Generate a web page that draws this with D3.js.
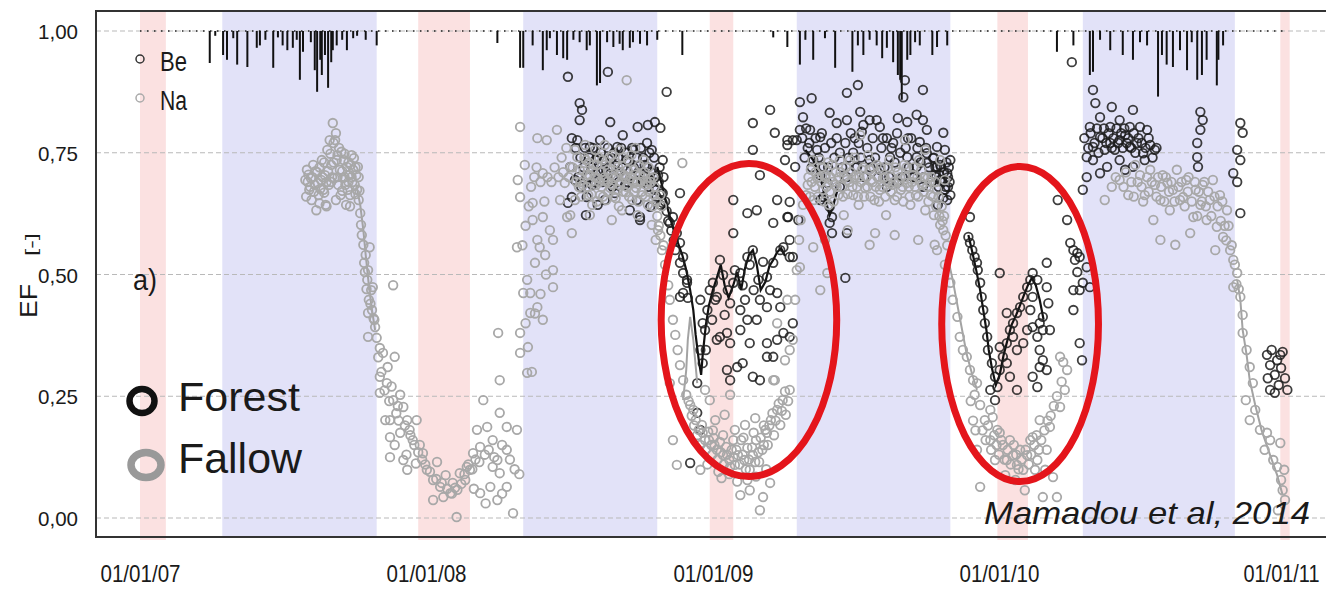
<!DOCTYPE html>
<html>
<head>
<meta charset="utf-8">
<script src="https://cdn.jsdelivr.net/npm/d3@7"></script>
<style>
  body { margin: 0; background: #fff; }
  text { font-family: "Liberation Sans", Arial, sans-serif; fill: #1a1a1a; }
</style>
</head>
<body>
<div id="app"></div>
<script>
// days since 01/01/07, EF value
const na2007 = [[211,.694],[213,.715],[216,.674],[218,.698],[219,.653],[221,.725],[223,.684],[225,.632],[226,.710],[228,.663],[231,.694],[232,.735],[234,.674],[236,.704],[237,.643],[239,.756],[241,.684],[242,.776],[244,.725],[246,.811],[248,.698],[249,.776],[250,.653],[251,.735],[253,.684],[254,.760],[255,.715],[256,.663],[259,.698],[260,.735],[262,.684],[263,.643],[264,.721],[265,.674],[267,.704],[268,.663],[269,.725],[271,.690],[272,.715],[273,.739],[274,.684],[276,.704],[277,.674],[278,.721],[279,.653],
  [212,.660],[214,.690],[215,.705],[217,.680],[220,.700],[222,.670],[224,.712],[227,.688],[229,.720],[230,.676],[233,.700],[235,.730],[238,.690],[240,.712],[243,.748],[245,.700],[247,.770],[247,.730],[250,.790],[252,.745],[252,.700],[257,.752],[258,.712],[261,.700],[261,.748],[266,.690],[266,.730],[270,.700],[270,.745],[275,.720],[275,.665],[279,.700],[280,.672],[235,.668],[244,.690],[258,.672],[268,.640],[238,.640],[229,.646],
  [281,.626],[282,.602],[283,.581],[285,.561],[286,.524],[288,.540],[290,.489],[291,.509],[292,.448],[293,.556],[295,.468],[296,.427],[297,.474],[299,.407],[300,.392],[291,.421],[291,.372],[306,.349],[310,.339],[325,.331],[323,.478],[306,.290],[315,.277],[306,.257],[323,.242],[336,.228],[319,.201],[341,.201],[353,.201],[319,.166],[332,.175],[348,.160],[319,.125],[336,.119],[341,.099],[361,.133],[366,.099],[374,.078],[383,.064],[387,.043],[396,.051],[399,.072],[404,.002],[374,.037],[408,.092],[417,.105],[425,.133],[434,.146],[430,.181],[443,.187],[450,.160],[456,.119],[459,.092],[447,.064],[434,.051],[456,.037],[468,.140],[468,.187],[459,.216],[481,.181],[476,.010],[459,.283],[457,.380],[438,.242],[468,.064],[450,.105],[357,.150],[379,.115],[390,.088],[402,.062],[415,.078],[421,.099],[332,.253],[344,.181],[313,.201],[325,.150],
  [287,.505],[289,.470],[294,.440],[298,.410],[302,.370],[304,.330],[308,.300],[312,.262],[318,.240],[327,.215],[330,.200],[338,.190],[345,.170],[350,.150],[355,.135],[360,.120],[364,.110],[370,.095],[378,.080],[385,.072],[392,.060],[398,.050],[405,.058],[410,.070],[414,.090],[419,.110],[424,.100],[428,.120],[433,.115],[440,.130],[445,.140],[452,.125],[462,.150],[472,.120],[478,.100],[484,.090],[462,.050],[441,.030],[426,.060],[340,.130],[352,.112],[316,.310],[321,.270],[329,.230]];

const na2008 = [[485,.803],[491,.725],[482,.694],[485,.659],[481,.556],[501,.612],[507,.571],[494,.489],[489,.462],[498,.421],[485,.380],[495,.351],[485,.339],[494,.298],[507,.780],[519,.776],[514,.708],[532,.797],[501,.647],[514,.618],[523,.591],[510,.556],[527,.571],[498,.462],[507,.433],[514,.407],[527,.474],[527,.509],[551,.585],[545,.618],[536,.653],[542,.688],[549,.721],[558,.741],[504,.524],[517,.540],
  [488,.560],[492,.600],[496,.640],[499,.680],[503,.700],[506,.720],[511,.690],[516,.650],[520,.700],[525,.690],[529,.720],[534,.700],[538,.740],[540,.710],[544,.760],[547,.700],[552,.720],[557,.690],[560,.680],[504,.420],[511,.460],[518,.500],[492,.400],[500,.300],
  [561,.715],[565,.684],[569,.735],[572,.663],[574,.704],[577,.643],[579,.725],[582,.684],[584,.698],[587,.663],[590,.735],[592,.694],[595,.653],[597,.715],[600,.678],[602,.745],[605,.698],[607,.657],[610,.721],[612,.684],[615,.632],[618,.704],[620,.669],[623,.735],[625,.694],[628,.653],[630,.715],[633,.678],[635,.622],[638,.704],[641,.663],[643,.735],[646,.684],[648,.643],[651,.698],[653,.602],[656,.663],[658,.571],[692,.729],[555,.756],[568,.766],[581,.756],[593,.766],[612,.756],[632,.760],[664,.663],[602,.612],[574,.622],[555,.653],[549,.622],[621,.899],
  [562,.690],[563,.660],[566,.712],[567,.740],[570,.680],[571,.705],[573,.730],[575,.690],[576,.665],[578,.712],[580,.700],[583,.650],[583,.725],[586,.690],[586,.740],[588,.710],[589,.680],[591,.660],[593,.700],[594,.725],[596,.690],[598,.670],[599,.740],[601,.705],[603,.685],[604,.660],[606,.730],[608,.700],[609,.675],[611,.640],[613,.710],[614,.690],[616,.740],[617,.670],[619,.700],[621,.680],[622,.715],[624,.660],[626,.700],[627,.745],[629,.690],[631,.670],[632,.705],[634,.690],[636,.650],[637,.725],[639,.690],[640,.670],[642,.700],[644,.710],[645,.660],[647,.690],[649,.720],[650,.670],[652,.690],[654,.640],[655,.700],[657,.680],[659,.650],[660,.620],[662,.600],[664,.580],[666,.640],[668,.560],
  [661,.591],[666,.550],[670,.520],[674,.478],[676,.448],[680,.407],[683,.376],[686,.345],[689,.314],[693,.283],[697,.253],[702,.232],[676,.277],[685,.109],[680,.160],
  [706,.222],[709,.201],[713,.181],[717,.191],[721,.160],[725,.177],[729,.150],[732,.164],[736,.140],[740,.156],[744,.129],[748,.146],[752,.119],[755,.140],[759,.109],[763,.129],[767,.160],[771,.119],[775,.144],[778,.099],[782,.129],[786,.160],[790,.115],[794,.140],[798,.181],[801,.150],[805,.201],[809,.170],[813,.222],[817,.191],[820,.242],[824,.212],[829,.263],[734,.201],[746,.212],[759,.181],[772,.191],[785,.205],[715,.099],[742,.082],[775,.078],[791,.016],[778,.057],[795,.043],[804,.072],[766,.047],[727,.242],[753,.253],[721,.263],[810,.283],[823,.324],[813,.400],[829,.345],[808,.283],
  [700,.240],[704,.210],[707,.190],[711,.170],[715,.150],[718,.175],[722,.140],[726,.160],[730,.130],[733,.150],[737,.120],[741,.135],[745,.110],[749,.130],[753,.105],[757,.125],[761,.140],[765,.110],[769,.130],[773,.100],[777,.120],[781,.145],[785,.115],[789,.135],[792,.165],[796,.150],[800,.175],[803,.190],[807,.215],[811,.200],[815,.235],[819,.220],[823,.260],[827,.240],[731,.180],[744,.170],[757,.160],[770,.165],[783,.175],[796,.190],[724,.110],[738,.095],[752,.090],[762,.075],[786,.085],[799,.100]];

const na2009 = [[833,.366],[836,.448],[838,.509],[841,.571],[843,.612],[846,.643],[850,.663],[859,.556],[877,.503],[868,.468],[842,.515],[826,.448],
  [852,.684],[856,.715],[860,.653],[864,.698],[868,.735],[872,.674],[875,.704],[879,.643],[883,.725],[887,.684],[891,.663],[894,.710],[898,.622],[902,.694],[906,.735],[910,.663],[914,.704],[917,.643],[921,.715],[925,.678],[929,.745],[933,.694],[937,.653],[940,.725],[944,.674],[948,.698],[952,.622],[956,.735],[960,.684],[963,.653],[967,.710],[971,.674],[975,.725],[979,.688],[983,.643],[986,.704],[990,.663],[994,.735],[998,.684],[1002,.632],[1005,.698],[1009,.663],[1013,.622],[1017,.674],[1021,.602],[874,.571],[903,.591],[931,.561],[963,.581],[993,.571],[1014,.561],[919,.786],[976,.776],[1002,.756],[938,.585],[1021,.735],[1027,.694],
  [853,.700],[855,.660],[857,.690],[858,.735],[861,.680],[862,.710],[865,.660],[866,.700],[869,.690],[870,.720],[873,.650],[874,.700],[876,.680],[878,.730],[880,.670],[881,.700],[884,.690],[885,.650],[888,.710],[889,.680],[892,.700],[893,.735],[896,.680],[897,.660],[899,.700],[901,.720],[903,.665],[905,.690],[907,.710],[909,.680],[911,.700],[912,.740],[915,.680],[916,.660],[918,.700],[920,.690],[923,.720],[924,.660],[927,.700],[928,.680],[931,.715],[932,.660],[935,.690],[936,.720],[939,.680],[941,.700],[943,.650],[945,.720],[947,.680],[950,.700],[951,.660],[954,.690],[955,.720],[958,.670],[959,.700],[962,.690],[964,.720],[966,.660],[968,.690],[970,.700],[973,.680],[974,.650],[977,.700],[978,.720],[981,.680],[982,.660],[985,.690],[987,.720],[989,.680],[992,.700],[993,.660],[996,.690],[997,.715],[1000,.670],[1001,.700],[1004,.680],[1006,.650],[1008,.690],[1010,.700],[1012,.660],[1015,.690],[1016,.640],[1019,.660],[1020,.620],[1023,.640],[1024,.610],[1026,.620],[1028,.580],[1030,.560],
  [1025,.591],[1017,.550],[1027,.520],[1034,.483],[1037,.448],[1043,.413],[1046,.372],[1050,.345],[1055,.331],[1059,.304],[1063,.283],[1068,.277],[1065,.253],[1072,.232],
  [1068,.140],[1072,.064],[1078,.201],[1085,.160],[1088,.207],[1094,.181],[1097,.175],[1101,.150],[1106,.119],[1110,.160],[1114,.129],[1119,.109],[1123,.140],[1127,.099],[1132,.129],[1136,.160],[1139,.166],[1145,.119],[1148,.201],[1152,.043],[1157,.140],[1161,.187],[1165,.084],[1170,.043],[1174,.228],[1174,.331],[1183,.304],[1180,.263],[1104,.088],[1117,.078],[1142,.099],[1091,.119],[1129,.057],[1085,.222],[1155,.099],
  [1075,.180],[1079,.160],[1082,.190],[1086,.140],[1090,.170],[1093,.150],[1096,.130],[1099,.160],[1103,.120],[1107,.140],[1111,.110],[1115,.150],[1118,.130],[1121,.100],[1125,.120],[1130,.140],[1134,.110],[1137,.130],[1141,.150],[1144,.170],[1147,.140],[1150,.160],[1154,.180],[1158,.200],[1162,.210],[1166,.230],[1170,.250],[1176,.280],[1178,.320],[1063,.200],[1066,.180],[1060,.240]];

const na2010 = [[1276,.704],[1282,.663],[1289,.715],[1293,.612],[1295,.684],[1302,.653],[1305,.704],[1311,.688],[1314,.632],[1318,.674],[1323,.715],[1327,.653],[1331,.659],[1335,.694],[1340,.585],[1344,.618],[1347,.674],[1353,.643],[1356,.684],[1361,.612],[1365,.653],[1369,.694],[1374,.598],[1378,.663],[1382,.577],[1387,.632],[1391,.550],[1395,.530],[1400,.503],[1395,.474],[1404,.454],[1302,.571],[1321,.561],[1372,.550],[1250,.694],[1261,.663],[1270,.725],[1231,.653],
  [1240,.680],[1245,.700],[1255,.680],[1258,.710],[1265,.690],[1268,.660],[1273,.690],[1278,.680],[1280,.650],[1285,.700],[1287,.670],[1291,.690],[1297,.660],[1299,.700],[1303,.680],[1307,.650],[1309,.700],[1313,.670],[1316,.690],[1320,.650],[1325,.680],[1329,.690],[1333,.640],[1337,.670],[1338,.700],[1342,.650],[1346,.690],[1349,.620],[1351,.670],[1355,.650],[1358,.690],[1360,.640],[1363,.670],[1367,.620],[1371,.660],[1375,.640],[1379,.610],[1381,.650],[1384,.600],[1386,.570],[1389,.600],[1393,.560],[1397,.520],[1399,.480],[1402,.470],
  [1407,.417],[1407,.380],[1412,.345],[1416,.310],[1420,.277],[1411,.242],[1416,.201],[1423,.222],[1429,.181],[1438,.175],[1435,.140],[1442,.160],[1446,.119],[1451,.105],[1455,.154],[1458,.057],[1456,.078],[1461,.037],[1460,.099],[1452,.016]];

const be2008 = [[546,.906],[597,.916],[672,.875],[561,.852],[564,.838],[561,.817],[551,.780],[558,.776],[600,.813],[616,.786],[635,.803],[648,.807],[657,.813],[664,.801],[574,.762],[587,.776],[609,.762],[629,.756],[647,.770],[667,.735],[549,.721],[551,.659],[546,.647],[570,.659],[606,.667],[634,.653],[638,.618],[651,.639],[667,.667],[680,.618],[689,.667],[667,.647],[676,.606],[685,.585],[689,.565],[693,.536],[689,.524],[693,.503],[698,.489],[693,.462],[699,.452],[689,.454],[638,.612],[581,.735],[591,.715],[602,.739],[612,.710],[621,.735],[644,.725],[653,.756],[661,.704],[657,.674],[619,.684],[593,.653],[577,.684],[584,.643],[625,.632],[664,.643],[569,.622],[555,.694],
  [556,.760],[559,.700],[562,.740],[563,.680],[566,.720],[568,.760],[571,.700],[573,.740],[576,.720],[578,.760],[580,.690],[583,.740],[585,.710],[588,.750],[590,.690],[592,.735],[595,.710],[597,.760],[599,.690],[601,.720],[603,.680],[605,.750],[607,.700],[610,.740],[611,.690],[614,.760],[616,.720],[618,.700],[620,.750],[622,.690],[624,.730],[626,.700],[628,.760],[630,.720],[632,.690],[634,.740],[636,.710],[639,.760],[641,.690],[642,.740],[645,.700],[647,.720],[649,.680],[650,.750],[652,.710],[654,.690],[656,.740],[658,.700],[659,.660],[662,.690],[663,.720],[665,.670],[668,.700],[670,.650],[672,.630],[674,.610],[678,.590],[681,.570],[683,.550],
  [702,.113],[715,.181],[711,.216],[715,.448],[718,.400],[715,.345],[718,.318],[711,.277],[724,.427],[731,.483],[740,.530],[757,.483],[766,.503],[775,.536],[782,.550],[800,.495],[808,.524],[817,.550],[821,.556],[829,.536],[757,.653],[787,.632],[813,.653],[829,.649],[791,.704],[775,.626],[808,.606],[757,.585],[826,.618],[829,.571],[833,.536],[736,.454],[753,.441],[766,.427],[775,.407],[787,.407],[766,.386],[800,.433],[813,.462],[817,.433],[800,.359],[813,.366],[821,.380],[808,.331],[740,.372],[749,.380],[753,.359],[736,.366],[778,.359],[762,.310],[769,.318],[749,.304],[782,.290],[791,.283],[753,.283],[800,.331],[698,.483],[829,.372],[833,.400],[727,.468],[734,.448],[744,.499],[750,.468],[759,.509],[769,.478],[778,.520],[789,.489],[795,.526],[804,.468],[721,.386],[730,.407],[722,.345],[746,.417],[791,.448],[783,.468],[772,.448],[782,.811],[810,.791],[826,.766],[838,.776],[782,.756],[804,.838]];

const be2009 = [[842,.854],[857,.862],[902,.873],[916,.889],[999,.879],[880,.832],[889,.811],[919,.834],[846,.823],[842,.797],[855,.797],[868,.782],[852,.760],[864,.756],[826,.776],[833,.776],[823,.735],[836,.721],[859,.735],[872,.721],[868,.704],[877,.688],[872,.659],[880,.639],[883,.618],[868,.653],[827,.618],[840,.612],[880,.606],[883,.585],[902,.585],[900,.493],[902,.817],[923,.807],[931,.817],[940,.817],[944,.803],[921,.793],[912,.780],[948,.780],[961,.770],[967,.821],[974,.864],[976,.899],[979,.813],[991,.828],[999,.817],[1004,.797],[980,.780],[995,.772],[1017,.762],[1025,.791],[1027,.756],[1012,.739],[1004,.729],[991,.721],[1017,.721],[1030,.708],[1021,.694],[1031,.680],[1025,.657],[1030,.653],[999,.680],[986,.700],[966,.688],[953,.680],[944,.715],[931,.735],[915,.721],[902,.700],[893,.680],[957,.741],[979,.741],[991,.741],[1004,.749],[1014,.704],[1021,.725],[1027,.674],[1034,.735],[1034,.663],[1018,.643],
  [845,.780],[848,.740],[850,.800],[854,.770],[857,.720],[862,.780],[866,.740],[870,.790],[874,.760],[878,.720],[882,.770],[886,.740],[889,.780],[893,.750],[896,.720],[900,.770],[904,.740],[907,.790],[910,.750],[913,.720],[917,.770],[920,.740],[924,.700],[928,.760],[932,.720],[935,.780],[938,.740],[942,.700],[946,.760],[950,.720],[953,.780],[956,.700],[959,.760],[963,.730],[966,.790],[970,.750],[973,.700],[977,.760],[981,.720],[984,.780],[988,.700],[992,.760],[996,.730],[1000,.700],[1003,.760],[1007,.720],[1010,.690],[1013,.740],[1016,.700],[1019,.680],[1022,.720],[1024,.690],[1026,.710],[1028,.680],[1029,.730],[1031,.700],[1033,.690],[1032,.720],[1020,.705],[1015,.720],
  [1059,.618],[1057,.577],[1059,.565],[1062,.550],[1065,.536],[1068,.524],[1069,.509],[1072,.483],[1074,.454],[1076,.427],[1078,.400],[1081,.372],[1082,.345],[1087,.318],[1091,.290],[1085,.263],[1094,.269],[1097,.304],[1101,.331],[1106,.359],[1110,.386],[1106,.421],[1097,.503],[1114,.400],[1119,.421],[1123,.433],[1127,.454],[1132,.474],[1136,.489],[1139,.503],[1145,.489],[1139,.454],[1136,.427],[1139,.392],[1145,.372],[1148,.345],[1152,.324],[1157,.304],[1148,.400],[1152,.413],[1157,.524],[1157,.474],[1159,.441],[1161,.386],[1106,.318],[1110,.290],[1119,.263],[1119,.345],[1097,.351],[1114,.372],[1139,.290],[1145,.269],[1148,.310],[1152,.386],[1132,.386],[1127,.359],[1183,.612],[1187,.565],[1191,.550],[1196,.544],[1193,.530],[1199,.536],[1208,.515],[1196,.505],[1203,.483],[1191,.468],[1199,.468],[1191,.427],[1199,.359],[1202,.324],[1212,.474],[1171,.653],[1091,.242]];

const be2010 = [[1189,.936],[1216,.879],[1219,.852],[1240,.844],[1267,.838],[1353,.834],[1356,.817],[1353,.797],[1404,.811],[1407,.791],[1400,.756],[1404,.735],[1395,.708],[1400,.690],[1212,.803],[1225,.823],[1238,.803],[1250,.817],[1263,.803],[1276,.803],[1285,.797],[1225,.782],[1238,.770],[1250,.776],[1263,.762],[1272,.770],[1280,.749],[1216,.762],[1208,.741],[1216,.735],[1225,.708],[1234,.721],[1250,.735],[1267,.721],[1349,.741],[1350,.721],[1349,.770],[1203,.674],[1208,.700],[1404,.626],[1244,.756],[1257,.786],[1231,.756],[1289,.766],[1295,.756],[1282,.735],[1257,.715],
  [1205,.780],[1210,.760],[1213,.790],[1218,.770],[1221,.800],[1223,.750],[1228,.780],[1230,.800],[1233,.770],[1236,.790],[1240,.760],[1242,.780],[1246,.800],[1248,.770],[1252,.790],[1254,.760],[1256,.800],[1259,.770],[1261,.780],[1265,.760],[1268,.790],[1270,.750],[1274,.780],[1278,.770],[1283,.760],[1287,.780],[1292,.740],[1297,.760],
  [1438,.335],[1442,.314],[1444,.345],[1448,.294],[1451,.324],[1453,.273],[1456,.308],[1458,.341],[1461,.287],[1464,.263],[1442,.263],[1448,.257],[1455,.335],[1439,.287]];

// continuous daily stretches drawn as lines
const beLines = [
  [[660,.721],[666,.684],[672,.643],[679,.602],[685,.571],[692,.540],[697,.509],[702,.468],[706,.427],[709,.376],[713,.324],[716,.294],[718,.335],[722,.396],[726,.437],[731,.468],[736,.493],[741,.520],[746,.478],[751,.452],[757,.478],[762,.505],[767,.468],[772,.513],[777,.540],[782,.550],[787,.520],[792,.468],[798,.485],[803,.517],[808,.530],[813,.546],[818,.554],[823,.538]],
  [[849,.756],[859,.735],[868,.700],[877,.639],[880,.622],[884,.639],[891,.680],[896,.700]],
  [[1057,.581],[1062,.546],[1067,.509],[1072,.468],[1076,.427],[1080,.386],[1083,.345],[1087,.308],[1092,.273],[1097,.294],[1102,.335],[1107,.366],[1112,.396],[1118,.417],[1123,.437],[1128,.458],[1133,.478],[1138,.493],[1143,.478],[1148,.448],[1153,.407]]
];
const naLines = [
  [[276,.684],[281,.643],[285,.591],[288,.540],[292,.478],[296,.427],[300,.386]],
  [[693,.242],[697,.304],[699,.366],[702,.413],[706,.366],[711,.277]],
  [[1030,.540],[1037,.489],[1043,.437],[1049,.386],[1055,.335],[1062,.294],[1068,.263]],
  [[1400,.489],[1404,.448],[1407,.386],[1412,.335],[1416,.283],[1423,.232],[1431,.181],[1442,.129],[1451,.088],[1458,.047]]
];

// rainfall, mm (day, depth)
const rain = [[89,40],[96,6],[106,30],[111,36],[119,9],[124,42],[137,45],[149,21],[153,18],[160,11],[170,46],[176,8],[182,18],[188,24],[195,21],[200,11],[204,61],[208,26],[218,14],[223,49],[226,76],[230,36],[232,55],[236,30],[240,71],[244,39],[246,24],[251,18],[258,11],[264,24],[272,9],[277,6],[288,11],[302,18],
  [456,15],[485,46],[489,46],[501,18],[514,49],[519,24],[523,9],[532,30],[540,34],[545,36],[553,11],[561,14],[570,24],[574,18],[583,68],[587,65],[596,14],[604,20],[612,16],[616,24],[625,21],[629,14],[638,16],[647,18],[660,11],[692,30],[808,8],[826,20],
  [842,42],[849,11],[859,36],[874,9],[887,46],[909,51],[916,18],[923,30],[931,11],[940,18],[947,34],[953,21],[961,39],[967,55],[970,61],[972,86],[979,36],[983,30],[989,14],[995,18],[1011,30],[1017,20],[1030,18],
  [1170,26],[1191,18],[1212,55],[1216,51],[1225,11],[1238,24],[1254,30],[1267,36],[1276,14],[1285,18],[1299,82],[1304,30],[1310,42],[1318,45],[1327,24],[1336,49],[1342,14],[1349,61],[1355,55],[1361,36],[1374,68],[1376,36],[1382,18]];

// seasons (day ranges)
const dryBands = [[0,33],[355,421],[727,757],[1094,1133],[1455,1467]];
const wetBands = [[105,302],[489,660],[838,1034],[1203,1397]];

// highlighted periods: [dayFrom, dayTo, efLow, efHigh]
const ellipses = [[665,889,.085,.728],[1023,1223,.075,.722]];

const yTicks = [0, 0.25, 0.5, 0.75, 1];
const xTicks = ["2007-01-01","2008-01-01","2009-01-01","2010-01-01","2011-01-01"];

const width = 1326, height = 589;
const box = {left: 96, top: 11, bottom: 537, right: 1326};

const svg = d3.select("#app").append("svg")
    .attr("width", width)
    .attr("height", height);

const t0 = new Date(2007, 0, 1);
const x = d3.scaleTime()
    .domain([t0, new Date(2011, 0, 1)])
    .range([140, 1285]);
const X = d => x(d3.timeDay.offset(t0, d));

const y = d3.scaleLinear().domain([0, 1]).range([518, 31]);
const rainY = d3.scaleLinear().domain([0, 100]).range([y(1), y(1) + 80]);

// background bands
svg.append("g").selectAll("rect").data(wetBands).enter().append("rect")
    .attr("x", d => X(d[0])).attr("width", d => X(d[1]) - X(d[0]))
    .attr("y", box.top).attr("height", box.bottom - box.top)
    .attr("fill", "#e2e2f8");
svg.append("g").selectAll("rect").data(dryBands).enter().append("rect")
    .attr("x", d => X(d[0])).attr("width", d => X(d[1]) - X(d[0]))
    .attr("y", box.top).attr("height", box.bottom - box.top + 3)
    .attr("fill", "#fbe1e1");

// grid
svg.append("g").selectAll("line").data(yTicks).enter().append("line")
    .attr("x1", box.left).attr("x2", box.right)
    .attr("y1", d => y(d)).attr("y2", d => y(d))
    .attr("stroke", "#b9b9b9").attr("stroke-width", 1)
    .attr("stroke-dasharray", "5,3");

// rain
svg.append("line")
    .attr("x1", X(0)).attr("x2", X(1461))
    .attr("y1", y(1)).attr("y2", y(1))
    .attr("stroke", "#222").attr("stroke-width", 1.6)
    .attr("stroke-dasharray", "1.5,5.5");
svg.append("g").selectAll("line").data(rain).enter().append("line")
    .attr("x1", d => X(d[0])).attr("x2", d => X(d[0]))
    .attr("y1", y(1)).attr("y2", d => rainY(d[1]))
    .attr("stroke", "#111").attr("stroke-width", 2);

// points
const line = d3.line().x(d => X(d[0])).y(d => y(d[1]));

const beAll = be2008.concat(be2009, be2010);
const naAll = na2007.concat(na2008, na2009, na2010);

svg.append("g").selectAll("path").data(beLines).enter().append("path")
    .attr("d", line).attr("fill", "none")
    .attr("stroke", "#111").attr("stroke-width", 2.2);
svg.append("g").selectAll("circle").data(beAll).enter().append("circle")
    .attr("cx", d => X(d[0])).attr("cy", d => y(d[1])).attr("r", 4.3)
    .attr("fill", "none").attr("stroke", "#1c1c1c")
    .attr("stroke-width", 1.8).attr("stroke-opacity", 0.85);

svg.append("g").selectAll("path").data(naLines).enter().append("path")
    .attr("d", line).attr("fill", "none")
    .attr("stroke", "#a3a3a3").attr("stroke-width", 2);
svg.append("g").selectAll("circle").data(naAll).enter().append("circle")
    .attr("cx", d => X(d[0])).attr("cy", d => y(d[1])).attr("r", 4.3)
    .attr("fill", "none").attr("stroke", "#a8a8a8")
    .attr("stroke-width", 1.8);

// red ellipses
svg.append("g").selectAll("ellipse").data(ellipses).enter().append("ellipse")
    .attr("cx", d => (X(d[0]) + X(d[1])) / 2)
    .attr("cy", d => (y(d[2]) + y(d[3])) / 2)
    .attr("rx", d => (X(d[1]) - X(d[0])) / 2)
    .attr("ry", d => (y(d[2]) - y(d[3])) / 2)
    .attr("fill", "none").attr("stroke", "#e4151b").attr("stroke-width", 7);

// frame
svg.append("path")
    .attr("d", `M${box.right},${box.top}H${box.left}V${box.bottom}H${box.right}`)
    .attr("fill", "none").attr("stroke", "#333").attr("stroke-width", 2);

// axes
const yAxis = svg.append("g")
    .attr("transform", `translate(${box.left},0)`)
    .call(d3.axisLeft(y).tickValues(yTicks).tickSize(0)
        .tickFormat(d => d3.format(".2f")(d).replace(".", ",")));
yAxis.select(".domain").remove();
yAxis.selectAll("text")
    .attr("x", -18).attr("dy", "0.36em")
    .attr("font-size", 21).attr("font-family", "Liberation Sans")
    .attr("textLength", 40).attr("lengthAdjust", "spacingAndGlyphs")
    .attr("fill", "#222");

const xAxis = svg.append("g")
    .attr("transform", `translate(0,${box.bottom})`)
    .call(d3.axisBottom(x).tickValues(xTicks.map(d => d3.timeParse("%Y-%m-%d")(d)))
        .tickSize(0).tickFormat(d3.timeFormat("%d/%m/%y")));
xAxis.select(".domain").remove();
xAxis.selectAll("text")
    .attr("y", 45).attr("dy", 0)
    .attr("font-size", 24).attr("font-family", "Liberation Sans")
    .attr("textLength", 80).attr("lengthAdjust", "spacingAndGlyphs")
    .attr("fill", "#222");
// last label sits against the right edge, as in the original
xAxis.selectAll(".tick").filter((d, i) => i === xTicks.length - 1)
    .select("text").attr("text-anchor", "end").attr("x", 34)
    .attr("font-size", 23).attr("textLength", 76);

// y title
svg.append("text")
    .attr("transform", "translate(37,318) rotate(-90)")
    .attr("font-size", 24).attr("textLength", 34).attr("lengthAdjust", "spacingAndGlyphs")
    .text("EF");
svg.append("text")
    .attr("transform", "translate(37,256) rotate(-90)")
    .attr("font-size", 17).attr("textLength", 23).attr("lengthAdjust", "spacingAndGlyphs")
    .text("[-]");

// small legend
svg.append("circle").attr("cx", 140).attr("cy", 59).attr("r", 4)
    .attr("fill", "none").attr("stroke", "#333").attr("stroke-width", 1.5);
svg.append("circle").attr("cx", 140).attr("cy", 98).attr("r", 4)
    .attr("fill", "none").attr("stroke", "#aaa").attr("stroke-width", 1.5);
svg.append("text").attr("x", 160).attr("y", 71).attr("font-size", 27)
    .attr("textLength", 27).attr("lengthAdjust", "spacingAndGlyphs").text("Be");
svg.append("text").attr("x", 160).attr("y", 110).attr("font-size", 27)
    .attr("textLength", 27).attr("lengthAdjust", "spacingAndGlyphs").text("Na");

svg.append("text").attr("x", 133).attr("y", 290).attr("font-size", 30)
    .attr("textLength", 24).attr("lengthAdjust", "spacingAndGlyphs").text("a)");

// big legend
svg.append("ellipse").attr("cx", 142).attr("cy", 401).attr("rx", 12.5).attr("ry", 12)
    .attr("fill", "none").attr("stroke", "#111").attr("stroke-width", 6.5);
svg.append("ellipse").attr("cx", 146).attr("cy", 465).attr("rx", 15).attr("ry", 12.5)
    .attr("fill", "none").attr("stroke", "#999").attr("stroke-width", 7.5);
svg.append("text").attr("x", 178).attr("y", 411).attr("font-size", 40)
    .attr("textLength", 122).attr("lengthAdjust", "spacingAndGlyphs").text("Forest");
svg.append("text").attr("x", 178).attr("y", 473).attr("font-size", 42)
    .attr("textLength", 124).attr("lengthAdjust", "spacingAndGlyphs").text("Fallow");

// source note
svg.append("text").attr("x", 984).attr("y", 524)
    .attr("font-size", 32).attr("font-style", "italic")
    .attr("font-family", "DejaVu Sans")
    .attr("textLength", 326).attr("lengthAdjust", "spacingAndGlyphs")
    .attr("fill", "#111")
    .text("Mamadou et al, 2014");
</script>
</body>
</html>
